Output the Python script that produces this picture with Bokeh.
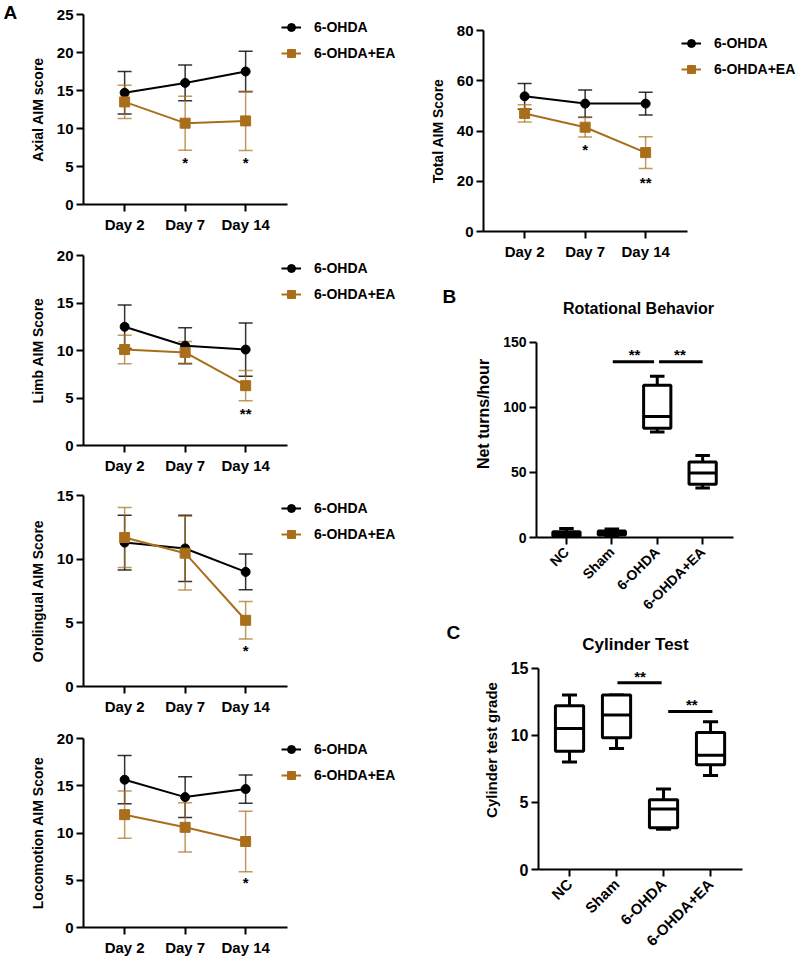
import math
from bokeh.plotting import figure
from bokeh.models import (Range1d, FixedTicker, Whisker, TeeHead, ColumnDataSource,
                          Legend, LegendItem, Label)
from bokeh.layouts import row, column
from bokeh.embed import file_html
from bokeh.resources import INLINE

FONT = "Liberation Sans"
BLACK = "#000000"
BROWN = "#A86E1C"

# ---------------- data ----------------
days = ["Day 2", "Day 7", "Day 14"]
series_names = ["6-OHDA", "6-OHDA+EA"]

axial_ohda = [14.7, 16.0, 17.5]
axial_ohda_sd = [2.8, 2.35, 2.65]
axial_ea = [13.5, 10.7, 11.0]
axial_ea_sd = [2.2, 3.55, 3.9]
axial_sig = ["", "*", "*"]
axial_sig_y = [0, 5.8, 5.8]

total_ohda = [53.8, 50.9, 50.9]
total_ohda_sd = [5.1, 5.4, 4.5]
total_ea = [47.0, 41.5, 31.4]
total_ea_sd = [3.4, 3.9, 6.3]
total_sig = ["", "*", "**"]
total_sig_y = [0, 33.5, 20.2]

limb_ohda = [12.5, 10.5, 10.1]
limb_ohda_sd = [2.3, 1.9, 2.8]
limb_ea = [10.1, 9.8, 6.3]
limb_ea_sd = [1.5, 1.15, 1.6]
limb_sig = ["", "", "**"]
limb_sig_y = [0, 0, 3.6]

oro_ohda = [11.3, 10.84, 9.0]
oro_ohda_sd = [2.15, 2.6, 1.4]
oro_ea = [11.7, 10.47, 5.2]
oro_ea_sd = [2.36, 2.9, 1.47]
oro_sig = ["", "", "*"]
oro_sig_y = [0, 0, 2.95]

loco_ohda = [15.64, 13.8, 14.65]
loco_ohda_sd = [2.55, 2.15, 1.5]
loco_ea = [11.94, 10.6, 9.1]
loco_ea_sd = [2.5, 2.6, 3.2]
loco_sig = ["", "", "*"]
loco_sig_y = [0, 0, 5.0]

groups = ["NC", "Sham", "6-OHDA", "6-OHDA+EA"]

rot_min = [0, 1, 81, 38]
rot_q1 = [1, 2, 84, 41]
rot_med = [3, 3.5, 93, 49.5]
rot_q3 = [4.5, 5, 117, 58]
rot_max = [7, 6.5, 124, 63]
rot_bar_x0 = [2.02, 3.04]
rot_bar_x1 = [2.93, 4.0]
rot_bar_y = [135, 135]
rot_star_x = [2.5, 3.5]
rot_star_y = [142, 142]

cyl_min = [8, 9, 3, 7]
cyl_q1 = [8.8, 9.8, 3.1, 7.8]
cyl_med = [10.5, 11.5, 4.5, 8.5]
cyl_q3 = [12.2, 13, 5.2, 10.2]
cyl_max = [13, 13, 6, 11]
cyl_bar_x0 = [2.02, 3.1]
cyl_bar_x1 = [2.96, 4.04]
cyl_bar_y = [13.9, 11.76]
cyl_star_x = [2.5, 3.6]
cyl_star_y = [14.5, 12.45]

LINE_X0 = 0.32      # left end of the Day axis
LINE_X1 = 3.69      # right end of the Day axis
LINE_PX = 60.5      # pixels per day step
BOX_X0 = 0.34
BOX_X1 = 4.68


def style(p, xtick_size, ytick_size, label_size):
    p.background_fill_color = "white"
    p.border_fill_color = "white"
    p.outline_line_color = None
    p.xgrid.visible = False
    p.ygrid.visible = False
    for ax in (p.xaxis[0], p.yaxis[0]):
        ax.axis_line_width = 2
        ax.axis_line_color = BLACK
        ax.major_tick_line_width = 2
        ax.major_tick_line_color = BLACK
        ax.major_tick_out = 7
        ax.major_tick_in = 0
        ax.minor_tick_out = 0
        ax.minor_tick_in = 0
        ax.major_label_text_font = FONT
        ax.major_label_text_font_style = "bold"
        ax.major_label_text_color = BLACK
        ax.axis_label_text_font = FONT
        ax.axis_label_text_font_style = "bold"
        ax.axis_label_text_font_size = label_size
        ax.axis_label_text_color = BLACK
    p.xaxis[0].major_label_text_font_size = xtick_size
    p.yaxis[0].major_label_text_font_size = ytick_size
    p.yaxis[0].major_label_standoff = 3
    p.yaxis[0].axis_label_standoff = 8
    p.xaxis[0].major_label_standoff = 4


def strip(letter, width, height, lx, baseline_from_top):
    p = figure(width=width, height=height, min_border=0, min_border_left=0,
               min_border_right=0, min_border_top=0, min_border_bottom=0,
               x_range=Range1d(0, width), y_range=Range1d(0, height),
               output_backend="svg", toolbar_location=None, tools="", frame_align=False)
    p.axis.visible = False
    p.grid.visible = False
    p.outline_line_color = None
    p.background_fill_color = "white"
    p.border_fill_color = "white"
    p.add_layout(Label(x=lx, y=height - baseline_from_top, x_units="screen", y_units="screen",
                       text=letter, text_font=FONT, text_font_style="bold",
                       text_font_size="19px", text_color=BLACK,
                       text_baseline="alphabetic", text_align="left"))
    return p


def line_panel(ylabel, ymax, yticks, o_mean, o_sd, e_mean, e_sd, sig_text, sig_y,
               width, height, left, top, frame_h):
    right = 2
    bottom = height - top - frame_h
    frame_w = width - left - right
    p = figure(width=width, height=height, min_border_left=left, min_border_right=right,
               min_border_top=top, min_border_bottom=bottom,
               x_range=Range1d(LINE_X0, LINE_X0 + frame_w / LINE_PX), y_range=Range1d(0, ymax),
               output_backend="svg", toolbar_location=None, tools="", frame_align=False)
    style(p, "15px", "15px", "14px")
    xs = list(range(1, len(days) + 1))
    p.xaxis.bounds = (LINE_X0, LINE_X1)
    p.xaxis.ticker = FixedTicker(ticks=xs)
    p.xaxis.major_label_overrides = {x: d for x, d in zip(xs, days)}
    p.yaxis.ticker = FixedTicker(ticks=yticks)
    p.yaxis.axis_label = ylabel

    items = []
    for mean, sd, col, marker, size, name, alpha in (
            (o_mean, o_sd, BLACK, "circle", 9, series_names[0], 0.8),
            (e_mean, e_sd, BROWN, "square", 10, series_names[1], 0.7)):
        src = ColumnDataSource(dict(x=xs, y=mean,
                                    upper=[m + s for m, s in zip(mean, sd)],
                                    lower=[m - s for m, s in zip(mean, sd)]))
        w = Whisker(source=src, base="x", upper="upper", lower="lower",
                    line_color=col, line_width=1.5, line_alpha=alpha,
                    upper_head=TeeHead(size=14, line_color=col, line_width=1.5, line_alpha=alpha),
                    lower_head=TeeHead(size=14, line_color=col, line_width=1.5, line_alpha=alpha))
        p.add_layout(w)
        lr = p.line("x", "y", source=src, line_color=col, line_width=2)
        sr = p.scatter("x", "y", source=src, marker=marker, size=size,
                       fill_color=col, line_color=col)
        items.append(LegendItem(label=name, renderers=[lr, sr]))

    sx = [x for x, t in zip(xs, sig_text) if t]
    sy = [y for y, t in zip(sig_y, sig_text) if t]
    st = [t for t in sig_text if t]
    p.text(x=sx, y=sy, text=st, text_font={"value": FONT}, text_font_style="bold",
           text_font_size="15px", text_align="center", text_baseline="alphabetic",
           y_offset=2, text_color=BLACK)

    leg = Legend(items=items, location=(198, frame_h - 49))
    leg.label_text_font = FONT
    leg.label_text_font_style = "bold"
    leg.label_text_font_size = "14px"
    leg.label_text_color = BLACK
    leg.glyph_width = 20
    leg.glyph_height = 20
    leg.label_height = 20
    leg.spacing = 6
    leg.padding = 0
    leg.margin = 0
    leg.label_standoff = 13
    leg.border_line_color = None
    leg.background_fill_alpha = 0
    p.add_layout(leg)
    return p


def box_panel(ylabel, ymax, yticks, title, vmin, q1, med, q3, vmax,
              bx0, bx1, by, stx, sty, width, height, left, top, frame_w, frame_h,
              axis_px, title_x, title_y, xtick_size, ytick_size, label_size, title_size):
    right = width - left - frame_w
    bottom = height - top - frame_h
    p = figure(width=width, height=height, min_border_left=left, min_border_right=right,
               min_border_top=top, min_border_bottom=bottom,
               x_range=Range1d(BOX_X0, BOX_X1),
               y_range=Range1d(0, ymax * frame_h / axis_px),
               output_backend="svg", toolbar_location=None, tools="", frame_align=False)
    style(p, xtick_size, ytick_size, label_size)
    xs = list(range(1, len(groups) + 1))
    p.yaxis.bounds = (0, ymax)
    p.xaxis.ticker = FixedTicker(ticks=xs)
    p.xaxis.major_label_overrides = {x: g for x, g in zip(xs, groups)}
    p.xaxis.major_label_orientation = math.pi / 4
    p.xaxis.major_label_standoff = 5
    p.yaxis.ticker = FixedTicker(ticks=yticks)
    p.yaxis.axis_label = ylabel

    lw = 3
    cap = 0.16
    p.segment(x0=xs, y0=q3, x1=xs, y1=vmax, line_color=BLACK, line_width=lw)
    p.segment(x0=xs, y0=q1, x1=xs, y1=vmin, line_color=BLACK, line_width=lw)
    p.segment(x0=[x - cap for x in xs], y0=vmax, x1=[x + cap for x in xs], y1=vmax,
              line_color=BLACK, line_width=lw)
    p.segment(x0=[x - cap for x in xs], y0=vmin, x1=[x + cap for x in xs], y1=vmin,
              line_color=BLACK, line_width=lw)
    p.vbar(x=xs, width=0.6, bottom=q1, top=q3, fill_color="white",
           line_color=BLACK, line_width=lw)
    p.segment(x0=[x - 0.3 for x in xs], y0=med, x1=[x + 0.3 for x in xs], y1=med,
              line_color=BLACK, line_width=lw)

    p.segment(x0=bx0, y0=by, x1=bx1, y1=by, line_color=BLACK, line_width=lw)
    p.text(x=stx, y=sty, text=["**"] * len(stx), text_font={"value": FONT},
           text_font_style="bold", text_font_size="15px", text_align="center",
           text_baseline="alphabetic", y_offset=2, text_color=BLACK)

    p.add_layout(Label(x=title_x, y=title_y, x_units="screen", y_units="screen",
                       text=title, text_font=FONT, text_font_style="bold",
                       text_font_size=title_size, text_color=BLACK,
                       text_align="center", text_baseline="middle"))
    return p


# ---------------- left column ----------------
s_a = strip("A", 20, 245, 3, 12)
f_axial = line_panel("Axial AIM score", 25, [0, 5, 10, 15, 20, 25],
                     axial_ohda, axial_ohda_sd, axial_ea, axial_ea_sd, axial_sig, axial_sig_y,
                     380, 245, 63, 14, 190)
f_limb = line_panel("Limb AIM Score", 20, [0, 5, 10, 15, 20],
                    limb_ohda, limb_ohda_sd, limb_ea, limb_ea_sd, limb_sig, limb_sig_y,
                    400, 243, 83, 10, 190)
f_oro = line_panel("Orolingual AIM Score", 15, [0, 5, 10, 15],
                   oro_ohda, oro_ohda_sd, oro_ea, oro_ea_sd, oro_sig, oro_sig_y,
                   400, 240, 83, 7, 191)
f_loco = line_panel("Locomotion AIM Score", 20, [0, 5, 10, 15, 20],
                    loco_ohda, loco_ohda_sd, loco_ea, loco_ea_sd, loco_sig, loco_sig_y,
                    400, 230, 83, 10, 191)

# ---------------- right column ----------------
f_total = line_panel("Total AIM Score", 80, [0, 20, 40, 60, 80],
                     total_ohda, total_ohda_sd, total_ea, total_ea_sd, total_sig, total_sig_y,
                     400, 270, 83, 30, 201)

s_b = strip("B", 60, 351, 42, 26)
f_rot = box_panel("Net turns/hour", 150, [0, 50, 100, 150], "Rotational Behavior",
                  rot_min, rot_q1, rot_med, rot_q3, rot_max,
                  rot_bar_x0, rot_bar_x1, rot_bar_y, rot_star_x, rot_star_y,
                  340, 351, 76, 20, 197, 248, 196, 102, 229,
                  "14px", "14px", "16px", "16px")

s_c = strip("C", 60, 337, 46, 11)
f_cyl = box_panel("Cylinder test grade", 15, [0, 5, 10, 15], "Cylinder Test",
                  cyl_min, cyl_q1, cyl_med, cyl_q3, cyl_max,
                  cyl_bar_x0, cyl_bar_x1, cyl_bar_y, cyl_star_x, cyl_star_y,
                  340, 337, 78, 9, 204, 242, 204, 97, 225,
                  "15px", "16px", "15px", "17px")

layout = row(
    column(row(s_a, f_axial), f_limb, f_oro, f_loco),
    column(f_total, row(s_b, f_rot), row(s_c, f_cyl)),
)

open("out.html", "w").write(file_html(layout, INLINE, "AIM scores"))
